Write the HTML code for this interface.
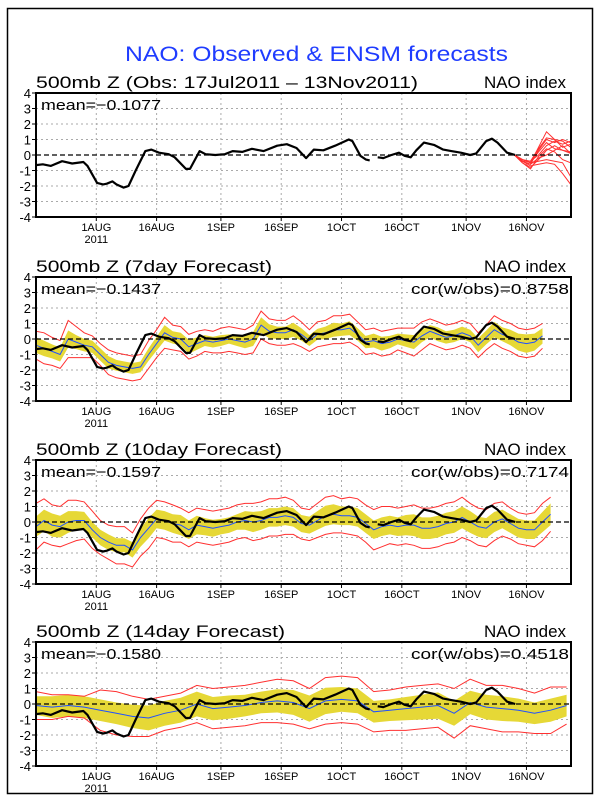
<!DOCTYPE html>
<html><head><meta charset="utf-8"><style>
html,body{margin:0;padding:0;background:#fff;}
svg{display:block;font-family:"Liberation Sans",sans-serif;}
</style></head><body>
<svg id="chart" width="600" height="800" viewBox="0 0 600 800">
<rect x="7.5" y="8.5" width="585" height="785" fill="#fff" stroke="#000" stroke-width="1.5"/>
<text x="125" y="61" textLength="383" lengthAdjust="spacingAndGlyphs" font-size="21" fill="#1f3cff">NAO: Observed &amp; ENSM forecasts</text>
<g id="panels"></g>
</svg>
<script>
// ---------- data ----------
const dateTickDays = [15,30,46,61,76,91,107,122];
const dateTickLabels = ["1AUG","16AUG","1SEP","16SEP","1OCT","16OCT","1NOV","16NOV"];
const yTicks = [4,3,2,1,0,-1,-2,-3,-4];

const obsDaysA = [0,1.7,3.7,6.5,9,11.8,12.8,15.2,16.7,17.6,19,20,21.8,23,24.8,27.2,28.7,30.6,33,34.5,37.3,38.3,40.7,42.2,44.6,47,48.9,51.3,53.7,56.6,60,62.4,64.8,67.2,69.1,71.5,74.4,77.8,78.7,80.7,82.1,83];
const obsValsA = [-0.65,-0.6,-0.7,-0.4,-0.55,-0.45,-0.7,-1.8,-1.9,-1.85,-1.7,-1.9,-2.1,-2.0,-1.0,0.25,0.35,0.15,0.05,-0.15,-0.9,-0.9,0.25,0.05,0,0.05,0.25,0.2,0.4,0.25,0.6,0.7,0.45,-0.2,0.35,0.3,0.6,1.0,0.9,-0.05,-0.3,-0.35];
const obsDaysB = [85,86.4,88.4,90.3,91.7,93.2,94.6,96.5,99,101.3,103.3,105.7,108,109.5,112,113.4,114.8,117.2,119.2];
const obsValsB = [-0.15,-0.2,0,0.15,-0.05,-0.15,0.3,0.8,0.65,0.35,0.25,0.15,0,0.1,0.9,1.05,0.8,0.15,0];

const ensDays = [119,121,123,125,127,129,131,133];
const ens1 = [0,-0.3,-0.5,0.5,1.5,1.0,0.9,0.5];
const ens2 = [0,-0.4,-0.6,0.3,1.0,0.8,1.0,0.8];
const ens3 = [0,-0.3,-0.4,0.0,0.6,0.9,0.7,0.9];
const ens4 = [0,-0.5,-0.8,-0.3,0.3,0.6,0.3,0.2];
const ens5 = [0,-0.4,-0.6,-0.2,0.0,0.3,0.6,0.1];
const ens6 = [0,-0.3,-0.5,-0.4,-0.3,-0.4,-0.5,-1.4];
const ens7 = [0,-0.4,-0.7,-0.6,-0.5,-0.6,-1.2,-1.9];
const ens8 = [0,-0.3,-0.5,0.2,0.8,0.4,0.3,0.1];
const ens9 = [0,-0.4,-0.4,0.4,1.1,1.0,0.5,0.7];
const ens10 = [0,-0.5,-0.9,-0.1,0.4,0.2,-0.3,-0.5];

// 7-day forecast (every 2 days, day 0..126)
const f7Mean = [-0.4,-0.6,-0.8,-1.0,0.0,-0.2,-0.4,-0.5,-1.0,-1.5,-1.7,-1.8,-1.9,-1.8,-1.0,-0.3,0.4,0.1,0.0,-0.5,-0.3,-0.1,-0.2,-0.1,0.0,-0.1,-0.2,0.0,0.9,0.5,0.4,0.4,0.6,0.3,-0.1,0.3,0.4,0.6,0.6,0.7,0.3,-0.2,-0.1,-0.3,-0.2,0.0,-0.1,-0.2,0.2,0.5,0.3,0.1,0.2,0.4,0.2,-0.4,0.1,0.6,0.3,0.1,-0.2,-0.3,-0.2,0.2];
const f7Band = [0.5,0.5,0.45,0.45,0.55,0.45,0.4,0.4,0.4,0.4,0.35,0.35,0.35,0.35,0.4,0.45,0.5,0.4,0.4,0.45,0.4,0.35,0.35,0.35,0.3,0.35,0.4,0.45,0.5,0.45,0.4,0.4,0.45,0.4,0.35,0.35,0.4,0.45,0.4,0.45,0.4,0.4,0.45,0.45,0.4,0.35,0.4,0.45,0.4,0.4,0.45,0.4,0.4,0.4,0.4,0.45,0.45,0.5,0.45,0.5,0.55,0.6,0.55,0.5];
const f7Spread = [0.9,1.0,0.9,0.9,1.2,1.0,0.8,0.7,0.7,0.8,0.8,0.8,0.8,0.8,0.9,0.9,1.0,0.8,0.8,0.8,0.8,0.7,0.7,0.8,0.8,0.8,0.8,0.9,0.9,0.8,0.8,0.8,0.9,0.8,0.7,0.8,0.8,0.9,0.9,0.9,0.8,0.8,0.8,0.8,0.8,0.7,0.8,0.9,0.9,0.8,0.8,0.8,0.8,0.8,0.8,0.8,0.8,0.9,0.9,0.9,0.9,0.9,0.9,0.8];

// 10-day forecast (every 2 days, day 0..128)
const f10Mean = [-0.3,0.1,-0.2,-0.3,0.0,0.1,0.1,-0.5,-1.0,-1.3,-1.5,-1.5,-1.8,-1.0,-0.4,0.2,0.1,-0.1,-0.2,-0.5,-0.2,-0.3,-0.4,-0.3,-0.2,0.0,0.1,0.0,0.1,0.3,0.3,0.4,0.3,-0.1,-0.2,0.1,0.4,0.5,0.4,0.4,0.3,-0.1,-0.5,-0.3,-0.2,-0.3,-0.2,-0.2,-0.4,-0.4,-0.3,-0.1,0.0,0.3,0.0,-0.3,-0.4,0.0,0.2,-0.1,-0.4,-0.5,-0.5,0.0,0.5];
const f10Band = [0.65,0.7,0.75,0.7,0.7,0.6,0.55,0.5,0.5,0.5,0.45,0.45,0.5,0.6,0.65,0.6,0.6,0.6,0.65,0.6,0.6,0.55,0.55,0.5,0.5,0.5,0.6,0.65,0.6,0.6,0.6,0.6,0.6,0.55,0.55,0.6,0.65,0.65,0.6,0.6,0.6,0.6,0.6,0.6,0.6,0.6,0.65,0.7,0.7,0.7,0.7,0.7,0.7,0.7,0.7,0.65,0.65,0.65,0.6,0.6,0.6,0.6,0.6,0.65,0.7];
const f10Spread = [1.5,1.4,1.3,1.3,1.4,1.3,1.2,1.2,1.1,1.1,1.2,1.2,1.1,1.2,1.3,1.2,1.2,1.2,1.1,1.1,1.1,1.1,1.1,1.1,1.1,1.1,1.1,1.2,1.2,1.2,1.2,1.2,1.1,1.0,1.0,1.1,1.2,1.2,1.1,1.2,1.2,1.2,1.3,1.3,1.2,1.2,1.2,1.3,1.3,1.3,1.3,1.3,1.3,1.3,1.2,1.2,1.2,1.2,1.1,1.0,1.0,1.0,1.1,1.2,1.1];

// 14-day forecast (every 4 days, day 0..132)
const f14Mean = [-0.1,-0.2,-0.1,-0.2,-0.4,-0.6,-0.8,-0.9,-0.6,-0.4,0.0,-0.3,-0.2,-0.1,0.1,0.2,0.1,-0.3,0.2,0.3,0.2,-0.5,-0.4,-0.3,-0.2,-0.1,-0.6,0.1,-0.2,-0.3,-0.4,-0.6,-0.4,-0.1];
const f14Band = [0.6,0.7,0.7,0.7,0.7,0.7,0.75,0.8,0.8,0.8,0.8,0.75,0.75,0.7,0.7,0.75,0.8,0.85,0.85,0.8,0.8,0.7,0.7,0.75,0.8,0.85,0.8,0.75,0.8,0.8,0.75,0.7,0.75,0.7];
const f14Spread = [0.9,0.8,0.7,0.7,1.3,1.4,1.3,1.2,1.1,1.1,1.2,1.3,1.3,1.3,1.3,1.4,1.4,1.3,1.5,1.5,1.5,1.3,1.3,1.4,1.4,1.4,1.6,1.5,1.4,1.5,1.4,1.3,1.5,1.2];

// ---------- drawing ----------
const NS = "http://www.w3.org/2000/svg";
const X0 = 36, X1 = 571, PXDAY = 4.02, PH = 124;
const panelTops = [93, 277, 460, 642];
function xs(d){ return X0 + d*PXDAY; }
function ys(v, top){ return top + (4 - v)*PH/8; }
function mk(tag, attrs, parent){
  const e = document.createElementNS(NS, tag);
  for (const k in attrs) e.setAttribute(k, attrs[k]);
  parent.appendChild(e); return e;
}
function pathOf(days, vals, top){
  return days.map((d,i)=>(i?"L":"M")+xs(d).toFixed(1)+","+ys(vals[i],top).toFixed(1)).join("");
}
const root = document.getElementById("panels");

function drawPanel(idx, head, headLen, meanTxt, corTxt, fc){
  const top = panelTops[idx], bot = top + PH;
  const g = mk("g", {}, root);
  
  
  const ht = mk("text", {x:36, y:top-5, "font-size":17, fill:"#000", textLength:headLen, lengthAdjust:"spacingAndGlyphs"}, g);
  ht.textContent = head;
  
  
  const ni = mk("text", {x:484, y:top-5, "font-size":17, fill:"#000", textLength:82, lengthAdjust:"spacingAndGlyphs"}, g);
  ni.textContent = "NAO index";
  
  
  // grid
  yTicks.forEach(v=>{
    if (v===4||v===-4||v===0) return;
    const l = mk("line", {x1:X0, x2:X1, y1:ys(v,top), y2:ys(v,top), stroke:"#aaa", "stroke-width":1, "stroke-dasharray":"2,3"}, g);
    
    
  });
  dateTickDays.forEach((d,i)=>{
    const l = mk("line", {x1:xs(d), x2:xs(d), y1:top, y2:bot, stroke:"#aaa", "stroke-width":1, "stroke-dasharray":"2,3"}, g);
    
    
    const t = mk("text", {x:xs(d), y:bot+14, "font-size":11, "text-anchor":"middle", fill:"#000"}, g);
    t.textContent = dateTickLabels[i];
    
    
    const tk = mk("line", {x1:xs(d), x2:xs(d), y1:bot, y2:bot+4, stroke:"#000"}, g);
    
    
  });
  const yr = mk("text", {x:xs(15), y:bot+26, "font-size":11, "text-anchor":"middle", fill:"#000"}, g);
  yr.textContent = "2011";
  
  
  yTicks.forEach(v=>{
    const t = mk("text", {x:31, y:ys(v,top)+5, "font-size":13, "text-anchor":"end", fill:"#000"}, g);
    t.textContent = String(v);
    
    
    const tk = mk("line", {x1:X0-4, x2:X0, y1:ys(v,top), y2:ys(v,top), stroke:"#000"}, g);
    
    
  });
  // forecast
  if (fc){
    const days = fc.mean.map((_,i)=>i*fc.step);
    const up = fc.mean.map((m,i)=>m+fc.band[i]), lo = fc.mean.map((m,i)=>m-fc.band[i]);
    let d = pathOf(days, up, top) + pathOf(days.slice().reverse(), lo.slice().reverse(), top).replace("M","L") + "Z";
    const band = mk("path", {d:d, fill:"#e6d836", stroke:"none"}, g);
    
    
    const ru = mk("path", {d:pathOf(days, fc.mean.map((m,i)=>m+fc.spread[i]), top), fill:"none", stroke:"#ff3030", "stroke-width":1}, g);
    
    
    const rl = mk("path", {d:pathOf(days, fc.mean.map((m,i)=>m-fc.spread[i]), top), fill:"none", stroke:"#ff3030", "stroke-width":1}, g);
    
    
    const ml = mk("path", {d:pathOf(days, fc.mean, top), fill:"none", stroke:"#2050ff", "stroke-width":1}, g);
    
    
  } else {
    [ens1,ens2,ens3,ens4,ens5,ens6,ens7,ens8,ens9,ens10].forEach(m=>{
      const p = mk("path", {d:pathOf(ensDays, m, top), fill:"none", stroke:"#ff3030", "stroke-width":1}, g);
      
      
    });
  }
  const z = mk("line", {x1:X0, x2:X1, y1:ys(0,top), y2:ys(0,top), stroke:"#000", "stroke-width":1.2, "stroke-dasharray":"5,3"}, g);
  
  
  [[obsDaysA,obsValsA],[obsDaysB,obsValsB]].forEach(s=>{
    const p = mk("path", {d:pathOf(s[0], s[1], top), fill:"none", stroke:"#000", "stroke-width":2.2, "stroke-linejoin":"round"}, g);
    
    
  });
  const fr = mk("rect", {x:X0, y:top, width:X1-X0, height:PH, fill:"none", stroke:"#000", "stroke-width":2}, g);
  
  
  const mt = mk("text", {x:41, y:top+17, "font-size":15, fill:"#000", textLength:120, lengthAdjust:"spacingAndGlyphs"}, g);
  mt.textContent = meanTxt;
  
  
  if (corTxt){
    const ct = mk("text", {x:411, y:top+17, "font-size":15, fill:"#000", textLength:158, lengthAdjust:"spacingAndGlyphs"}, g);
    ct.textContent = corTxt;
    
    
  }
}
drawPanel(0, "500mb Z (Obs: 17Jul2011 \u2013 13Nov2011)", 382, "mean=\u22120.1077", null, null);
drawPanel(1, "500mb Z (7day Forecast)", 236, "mean=\u22120.1437", "cor(w/obs)=0.8758", {mean:f7Mean, band:f7Band, spread:f7Spread, step:2});
drawPanel(2, "500mb Z (10day Forecast)", 246, "mean=\u22120.1597", "cor(w/obs)=0.7174", {mean:f10Mean, band:f10Band, spread:f10Spread, step:2});
drawPanel(3, "500mb Z (14day Forecast)", 249, "mean=\u22120.1580", "cor(w/obs)=0.4518", {mean:f14Mean, band:f14Band, spread:f14Spread, step:4});
</script>
</body></html>
